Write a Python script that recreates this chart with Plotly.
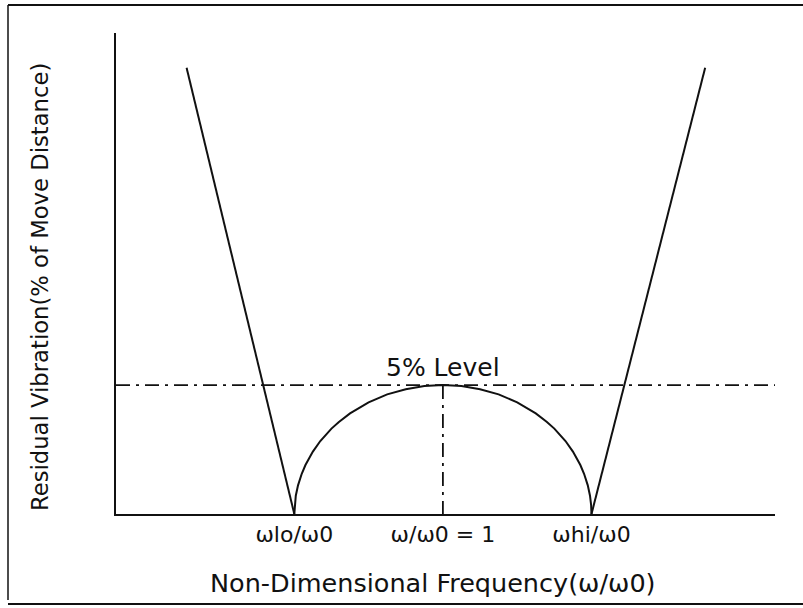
import plotly.graph_objects as go

# Frequency ratio markers (omega / omega0)
w_lo = 0.8
w_mid = 1.0
w_hi = 1.2
level_5 = 5.0

tick_vals = [w_lo, w_mid, w_hi]
tick_text = ["ωlo/ω0", "ω/ω0 = 1", "ωhi/ω0"]

# Straight flanks outside the insensitive band
left_x = [0.655, 0.8]
left_y = [17.3, 0.0]
right_x = [1.2, 1.353]
right_y = [0.0, 17.3]

# Residual vibration hump between the two zeros
hump_x = [0.8, 0.8005, 0.802, 0.805, 0.81, 0.815, 0.825, 0.835, 0.85, 0.86, 0.875, 0.9,
          0.925, 0.95, 0.975, 1.0, 1.025, 1.05, 1.075, 1.1, 1.125, 1.14, 1.15, 1.165,
          1.175, 1.185, 1.19, 1.195, 1.198, 1.1995, 1.2]
hump_y = [0.0, 0.35, 0.71, 1.11, 1.56, 1.90, 2.42, 2.83, 3.31, 3.57, 3.90, 4.33,
          4.64, 4.84, 4.96, 5.0, 4.96, 4.84, 4.64, 4.33, 3.90, 3.57, 3.31, 2.83,
          2.42, 1.90, 1.56, 1.11, 0.71, 0.35, 0.0]

X_RANGE = [0.56, 1.447]
Y_RANGE = [0.0, 18.65]

W, H = 803, 608
ML, MR, MT, MB = 116, 28, 33, 94
PW, PH = W - ML - MR, H - MT - MB


def px(x):
    return (x - ML) / PW


def py(y):
    return (H - MB - y) / PH


ink = "#111111"
line_style = dict(color=ink, width=2)
dash_style = dict(color=ink, width=1.8, dash="14px,6px,3px,6px")

fig = go.Figure()
fig.add_trace(go.Scatter(x=left_x, y=left_y, mode="lines", line=line_style))
fig.add_trace(go.Scatter(x=right_x, y=right_y, mode="lines", line=line_style))
fig.add_trace(go.Scatter(x=hump_x, y=hump_y, mode="lines", line=line_style))
fig.add_trace(go.Scatter(x=X_RANGE, y=[level_5, level_5], mode="lines", line=dash_style))
fig.add_trace(go.Scatter(x=[w_mid, w_mid], y=[level_5, 0.0], mode="lines", line=dash_style))

font_main = "DejaVu Sans, Verdana, sans-serif"

fig.add_annotation(x=w_mid, y=level_5, xref="x", yref="y", text="5% Level",
                   showarrow=False, yanchor="middle", yshift=18,
                   font=dict(family=font_main, size=25, color=ink))
fig.add_annotation(x=px(433), y=py(583), xref="paper", yref="paper",
                   text="Non-Dimensional Frequency(ω/ω0)", showarrow=False,
                   xanchor="center", yanchor="middle",
                   font=dict(family=font_main, size=25.5, color=ink))
fig.add_annotation(x=px(40), y=py(287), xref="paper", yref="paper",
                   text="Residual Vibration(% of Move Distance)", showarrow=False,
                   textangle=-90, xanchor="center", yanchor="middle",
                   font=dict(family=font_main, size=22.7, color=ink))

# Outer frame
frame = dict(color=ink, width=2)
fig.add_shape(type="line", xref="paper", yref="paper",
              x0=px(8), x1=px(803), y0=py(5), y1=py(5), line=frame)
fig.add_shape(type="line", xref="paper", yref="paper",
              x0=px(8), x1=px(8), y0=py(5), y1=py(600), line=dict(color=ink, width=1.5))
fig.add_shape(type="line", xref="paper", yref="paper",
              x0=px(8), x1=px(803), y0=py(604), y1=py(604), line=frame)

fig.update_layout(
    width=W, height=H,
    margin=dict(l=ML, r=MR, t=MT, b=MB),
    paper_bgcolor="white", plot_bgcolor="white",
    showlegend=False,
    font=dict(family=font_main, color=ink),
)
fig.update_xaxes(range=X_RANGE, showgrid=False, zeroline=False,
                 showline=True, linecolor=ink, linewidth=2,
                 tickvals=tick_vals, ticktext=tick_text, ticks="",
                 tickfont=dict(family=font_main, size=22, color=ink))
fig.update_yaxes(range=Y_RANGE, showgrid=False, zeroline=False,
                 showline=True, linecolor=ink, linewidth=2,
                 showticklabels=False, ticks="")

fig.write_html("out.html")
